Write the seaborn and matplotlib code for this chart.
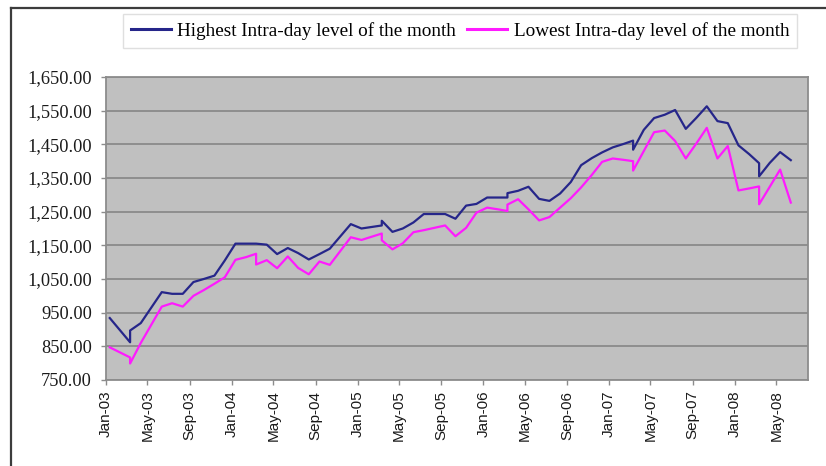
import matplotlib
matplotlib.use("Agg")
import matplotlib.pyplot as plt
import matplotlib.dates as mdates
from matplotlib.lines import Line2D
from matplotlib.ticker import FuncFormatter, FixedLocator
import seaborn as sns
import pandas as pd

months = ["2003-01", "2003-03", "2003-03", "2003-04", "2003-06", "2003-07", "2003-08", "2003-09",
          "2003-10", "2003-11", "2003-12", "2004-01", "2004-02", "2004-03", "2004-03", "2004-04",
          "2004-05", "2004-06", "2004-07", "2004-08", "2004-09", "2004-10", "2004-12", "2005-01",
          "2005-03", "2005-03", "2005-04", "2005-05", "2005-06", "2005-07", "2005-08", "2005-09",
          "2005-10", "2005-11", "2005-12", "2006-01", "2006-02", "2006-03", "2006-03", "2006-04",
          "2006-05", "2006-06", "2006-07", "2006-08", "2006-09", "2006-10", "2006-11", "2006-12",
          "2007-01", "2007-02", "2007-03", "2007-03", "2007-04", "2007-05", "2007-06", "2007-07",
          "2007-08", "2007-09", "2007-10", "2007-11", "2007-12", "2008-01", "2008-02", "2008-03",
          "2008-03", "2008-04", "2008-05", "2008-06"]

highest = [934, 862, 897, 919, 1011, 1006, 1006, 1041, 1050, 1060, 1105, 1155, 1155, 1155, 1155, 1152,
           1124, 1142, 1127, 1108, 1124, 1140, 1213, 1200, 1209, 1223, 1190, 1200, 1218, 1243, 1243, 1243,
           1229, 1268, 1273, 1292, 1292, 1292, 1305, 1312, 1324, 1288, 1282, 1304, 1338, 1388, 1409, 1426,
           1441, 1451, 1461, 1434, 1493, 1528, 1538, 1552, 1496, 1529, 1563, 1519, 1513, 1447, 1421, 1394,
           1355, 1395, 1427, 1403]

lowest = [847, 817, 799, 860, 968, 978, 968, 1000, 1017, 1036, 1055, 1107, 1115, 1125, 1093, 1106,
          1082, 1117, 1083, 1064, 1102, 1092, 1174, 1166, 1185, 1165, 1138, 1156, 1189, 1195, 1202, 1209,
          1177, 1202, 1247, 1262, 1257, 1252, 1271, 1287, 1257, 1224, 1234, 1262, 1290, 1322, 1359, 1398,
          1408, 1404, 1400, 1372, 1430, 1486, 1491, 1460, 1408, 1453, 1499, 1408, 1445, 1313, 1319, 1325,
          1272, 1324, 1375, 1277]

series_names = ["Highest Intra-day level of the month", "Lowest Intra-day level of the month"]
y_ticks = [750, 850, 950, 1050, 1150, 1250, 1350, 1450, 1550, 1650]

W, H = 826, 466
fig = plt.figure(figsize=(W / 100, H / 100), dpi=100)
ax = fig.add_axes([106 / W, 1 - 380 / H, (808 - 106) / W, (380 - 77) / H])

dates = pd.to_datetime(months) + pd.Timedelta(days=11)  # display offset within month
df = pd.concat([
    pd.DataFrame({"date": dates, "value": highest, "series": series_names[0]}),
    pd.DataFrame({"date": dates, "value": lowest, "series": series_names[1]}),
], ignore_index=True)

BLUE = "#26268a"
PINK = "#ff1aff"
sns.lineplot(data=df, x="date", y="value", hue="series", estimator=None, sort=False,
             palette={series_names[0]: BLUE, series_names[1]: PINK},
             linewidth=1.6, ax=ax, legend=False)

ax.set_facecolor("#c0c0c0")
ax.set_xlim(pd.Timestamp("2003-01-01"), pd.Timestamp("2008-08-01"))
ax.set_ylim(750, 1650)
ax.yaxis.set_major_locator(FixedLocator(y_ticks))
ax.yaxis.set_major_formatter(FuncFormatter(lambda v, p: f"{v:,.2f}"))
ax.grid(axis="y", color="#8a8a8a", linewidth=1.3)
ax.grid(axis="x", visible=False)
ax.set_axisbelow(True)

xt = pd.date_range("2003-01-01", "2008-05-01", freq="4MS")
ax.set_xticks(xt)
ax.xaxis.set_major_formatter(mdates.DateFormatter("%b-%y"))
ax.set_xlabel("")
ax.set_ylabel("")

for s in ax.spines.values():
    s.set_color("#8c8c8c")
    s.set_linewidth(1.3)

ax.tick_params(axis="y", length=3.6, width=1, color="#8c8c8c", pad=6.5)
ax.tick_params(axis="x", length=3.6, width=1, color="#8c8c8c", pad=4)
for lab in ax.get_yticklabels():
    lab.set_fontfamily("Liberation Serif")
    lab.set_fontsize(13.2)
    lab.set_color("#1a1a1a")
for lab in ax.get_xticklabels():
    lab.set_fontfamily("Liberation Sans")
    lab.set_fontsize(11)
    lab.set_rotation(90)
    lab.set_color("#1a1a1a")

handles = [Line2D([], [], color=BLUE, linewidth=2.2),
           Line2D([], [], color=PINK, linewidth=2.2)]
leg = fig.legend(handles, series_names, loc="center", bbox_to_anchor=(460 / W, 1 - 31 / H),
                 ncol=2, frameon=True, fancybox=False, handlelength=2.1, handletextpad=0.35,
                 columnspacing=0.55, borderpad=0.4,
                 prop={"family": "Liberation Serif", "size": 13.8})
leg.get_frame().set_edgecolor("#d8d8d8")
leg.get_frame().set_linewidth(1.0)

# outer chart border (top and left)
fig.add_artist(Line2D([11 / W, 1], [1 - 8 / H, 1 - 8 / H], color="#3c3c3c", linewidth=1.6,
                      transform=fig.transFigure))
fig.add_artist(Line2D([11 / W, 11 / W], [0, 1 - 8 / H], color="#3c3c3c", linewidth=1.6,
                      transform=fig.transFigure))

fig.savefig("out.png", dpi=100)
